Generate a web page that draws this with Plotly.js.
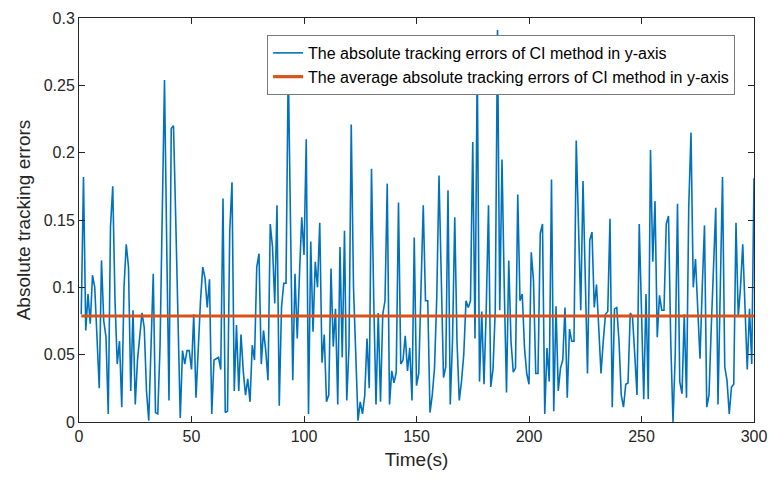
<!DOCTYPE html>
<html>
<head>
<meta charset="utf-8">
<script src="https://cdn.plot.ly/plotly-3.0.1.min.js"></script>
<style>html,body{margin:0;padding:0;background:#fff;}#chart{width:771px;height:481px;}</style>
</head>
<body>
<div id="chart"></div>
<script>
// Absolute tracking errors (y-axis), one sample per second, t = 1..300
const errors = [
0.080,0.182,0.068,0.095,0.073,0.109,0.100,0.065,0.025,0.120,
0.075,0.063,0.006,0.145,0.175,0.090,0.043,0.060,0.011,0.100,
0.132,0.115,0.023,0.083,0.013,0.046,0.065,0.081,0.070,0.023,
0.001,0.060,0.110,0.007,0.006,0.055,0.160,0.254,0.130,0.016,
0.218,0.220,0.150,0.075,0.003,0.053,0.043,0.053,0.053,0.039,
0.080,0.018,0.060,0.090,0.115,0.107,0.085,0.106,0.006,0.046,
0.047,0.048,0.039,0.166,0.007,0.008,0.142,0.178,0.023,0.072,
0.023,0.065,0.038,0.020,0.032,0.015,0.057,0.046,0.115,0.125,
0.043,0.068,0.053,0.031,0.147,0.130,0.088,0.161,0.012,0.085,
0.103,0.103,0.265,0.160,0.031,0.110,0.062,0.110,0.152,0.124,
0.210,0.006,0.134,0.067,0.119,0.100,0.148,0.044,0.065,0.015,
0.020,0.114,0.056,0.084,0.013,0.130,0.048,0.142,0.016,0.056,
0.221,0.100,0.045,0.001,0.015,0.006,0.020,0.062,0.025,0.188,
0.090,0.013,0.081,0.015,0.080,0.090,0.177,0.013,0.038,0.029,
0.037,0.163,0.043,0.046,0.064,0.038,0.055,0.016,0.137,0.027,
0.036,0.100,0.161,0.090,0.090,0.007,0.020,0.040,0.092,0.183,
0.100,0.033,0.041,0.172,0.013,0.060,0.152,0.060,0.016,0.030,
0.050,0.090,0.085,0.090,0.208,0.062,0.270,0.030,0.082,0.028,
0.084,0.161,0.026,0.039,0.083,0.291,0.083,0.195,0.100,0.022,
0.120,0.060,0.037,0.040,0.169,0.090,0.095,0.055,0.036,0.028,
0.126,0.105,0.036,0.036,0.140,0.147,0.006,0.055,0.030,0.180,
0.008,0.086,0.023,0.040,0.046,0.085,0.018,0.069,0.060,0.060,
0.209,0.140,0.083,0.179,0.100,0.036,0.135,0.141,0.085,0.102,
0.070,0.036,0.060,0.080,0.082,0.151,0.011,0.084,0.085,0.060,
0.020,0.011,0.028,0.029,0.081,0.078,0.050,0.020,0.147,0.080,
0.017,0.095,0.017,0.202,0.119,0.164,0.063,0.094,0.083,0.083,
0.147,0.153,0.060,0.000,0.050,0.162,0.030,0.021,0.080,0.018,
0.160,0.215,0.100,0.121,0.080,0.047,0.100,0.146,0.011,0.020,
0.070,0.120,0.159,0.013,0.100,0.182,0.041,0.031,0.006,0.026,
0.028,0.148,0.078,0.100,0.132,0.090,0.039,0.084,0.043,0.181
];
const time = errors.map((_, i) => i + 1);
const averageError = 0.0787;
const xTicks = [0, 50, 100, 150, 200, 250, 300];
const yTicks = [0, 0.05, 0.1, 0.15, 0.2, 0.25, 0.3];
const yTickText = ["0", "0.05", "0.1", "0.15", "0.2", "0.25", "0.3"];
const seriesNames = [
  "The absolute tracking errors of CI method in y-axis",
  "The average absolute tracking errors of CI method in y-axis"
];

const font = "Liberation Sans, Arial, Helvetica, sans-serif";
const axisColor = "#262626";

const traces = [
  {
    x: time, y: errors, type: "scatter", mode: "lines",
    name: seriesNames[0],
    line: {color: "#0072BD", width: 1.6}
  },
  {
    x: [time[0], time[time.length - 1]], y: [averageError, averageError],
    type: "scatter", mode: "lines",
    name: seriesNames[1],
    line: {color: "#D95319", width: 3.2}
  }
];

const axisCommon = {
  showgrid: false, zeroline: false, showline: true, mirror: "ticks",
  linecolor: axisColor, linewidth: 1, ticks: "inside", ticklen: 6,
  tickcolor: axisColor, tickfont: {family: font, size: 16, color: axisColor}
};

const layout = {
  width: 771, height: 481,
  margin: {l: 79, r: 17, t: 18, b: 59},
  paper_bgcolor: "#ffffff", plot_bgcolor: "#ffffff",
  showlegend: true,
  legend: {
    x: 0.972, y: 0.958, xanchor: "right", yanchor: "top",
    bgcolor: "#ffffff", bordercolor: "#7a7a7a", borderwidth: 1,
    font: {family: font, size: 16, color: "#000000"},
    tracegroupgap: 0
  },
  xaxis: Object.assign({}, axisCommon, {
    range: [0, 300], tickvals: xTicks, ticktext: xTicks.map(String),
    title: {text: "Time(s)", font: {family: font, size: 19, color: axisColor}, standoff: 8}
  }),
  yaxis: Object.assign({}, axisCommon, {
    range: [0, 0.3], tickvals: yTicks, ticktext: yTickText,
    title: {text: "Absolute tracking errors", font: {family: font, size: 19, color: axisColor}, standoff: 8}
  })
};

Plotly.newPlot("chart", traces, layout, {staticPlot: true, displayModeBar: false});
</script>
</body>
</html>
